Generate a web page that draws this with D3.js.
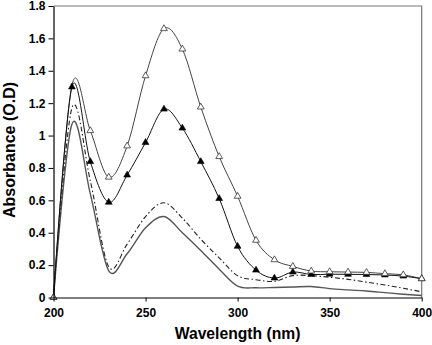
<!DOCTYPE html>
<html>
<head>
<meta charset="utf-8">
<script src="https://cdn.jsdelivr.net/npm/d3@7"></script>
<style>
  html, body { margin: 0; padding: 0; background: #fff; }
  svg { display: block; }
  text { font-family: "Liberation Sans", Arial, sans-serif; font-weight: bold; fill: #000; }
</style>
</head>
<body>
<svg id="chart" width="432" height="345"></svg>
<script>
// ---- data ----
const wavelength = [200,210,220,230,240,250,260,270,280,290,300,310,320,330,340,350,360,370,380,390,400];
const seriesOpen   = [0,1.31,1.03,0.743,0.936,1.369,1.66,1.534,1.176,0.87,0.625,0.353,0.233,0.192,0.163,0.159,0.157,0.155,0.147,0.14,0.116];
const seriesFilled = [0,1.30,0.839,0.588,0.756,0.957,1.163,1.046,0.839,0.611,0.316,0.169,0.12,0.157,0.142,0.144,0.143,0.142,0.139,0.132,0.116];
const seriesDashDot= [0,1.17,0.72,0.19,0.33,0.50,0.585,0.49,0.36,0.245,0.135,0.11,0.10,0.135,0.135,0.125,0.112,0.095,0.077,0.057,0.035];
const seriesSolid  = [0,1.07,0.64,0.165,0.27,0.43,0.50,0.40,0.29,0.175,0.07,0.06,0.062,0.065,0.068,0.055,0.047,0.04,0.03,0.02,0.012];
const xTicks = [200,250,300,350,400];
const yTicks = [0,0.2,0.4,0.6,0.8,1,1.2,1.4,1.6,1.8];
const xTitle = "Wavelength (nm)";
const yTitle = "Absorbance (O.D)";

// ---- layout ----
const L = 53.5, R = 421.7, T = 6, B = 297.5;
const svg = d3.select("#chart");
const x = d3.scaleLinear().domain([200,400]).range([L,R]);
const y = d3.scaleLinear().domain([0,1.8]).range([B,T]);

// frame (top/right)
svg.append("path")
  .attr("d", `M${L},${T}H${R}V${B}`)
  .attr("fill","none").attr("stroke","#777").attr("stroke-width",1.2);

const line = d3.line()
  .x((d,i)=>x(wavelength[i]))
  .y(d=>y(d))
  .curve(d3.curveCatmullRom.alpha(0));

const g = svg.append("g");
g.append("path").datum(seriesSolid).attr("d",line)
  .attr("fill","none").attr("stroke","#555").attr("stroke-width",1.4);
g.append("path").datum(seriesDashDot).attr("d",line)
  .attr("fill","none").attr("stroke","#222").attr("stroke-width",1.1)
  .attr("stroke-dasharray","5,2.5,1.5,2.5");
g.append("path").datum(seriesOpen).attr("d",line)
  .attr("fill","none").attr("stroke","#444").attr("stroke-width",1);
g.append("path").datum(seriesFilled).attr("d",line)
  .attr("fill","none").attr("stroke","#111").attr("stroke-width",1);

const tri = d3.symbol().type(d3.symbolTriangle).size(20);
g.selectAll(".mf").data(seriesFilled).join("path")
  .attr("transform",(d,i)=>`translate(${x(wavelength[i])},${y(d)})`)
  .attr("d",tri).attr("fill","#000").attr("stroke","#000").attr("stroke-width",0.6);
g.selectAll(".mo").data(seriesOpen).join("path")
  .filter((d,i)=>i!==1)
  .attr("transform",(d,i)=>`translate(${x(wavelength[i===0?0:i+1])},${y(d)})`)
  .attr("d",tri).attr("fill","#fff").attr("stroke","#333").attr("stroke-width",0.8);

// axes
const xAxis = svg.append("g").attr("transform",`translate(0,${B})`)
  .call(d3.axisBottom(x).tickValues(xTicks).tickSize(4).tickSizeOuter(0).tickFormat(d3.format("d")));
const yAxis = svg.append("g").attr("transform",`translate(${L},0)`)
  .call(d3.axisLeft(y).tickValues(yTicks).tickSize(5).tickSizeOuter(0).tickFormat(d=>String(d)));
[xAxis,yAxis].forEach(a=>{
  a.select(".domain").attr("stroke","#000").attr("stroke-width",1.2);
  a.selectAll(".tick line").attr("stroke","#000").attr("stroke-width",1);
  a.selectAll(".tick text").attr("font-family","Liberation Sans, Arial, sans-serif")
    .attr("font-weight","bold").attr("font-size",12).attr("fill","#000");
});
xAxis.selectAll(".tick text").attr("y",11).attr("dy","0.71em");
yAxis.selectAll(".tick text").attr("x",-8);

// titles
svg.append("text").attr("x",(L+R)/2).attr("y",338.5).attr("text-anchor","middle")
  .attr("font-size",15.7).text(xTitle);
svg.append("text").attr("transform","translate(15,150) rotate(-90)")
  .attr("text-anchor","middle").attr("font-size",16).text(yTitle);
</script>
</body>
</html>
